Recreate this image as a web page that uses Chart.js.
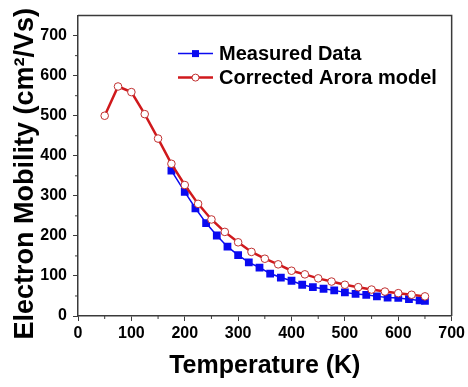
<!DOCTYPE html>
<html>
<head>
<meta charset="utf-8">
<script src="https://cdn.jsdelivr.net/npm/chart.js@4/dist/chart.umd.min.js"></script>
<style>
  html, body { margin: 0; padding: 0; background: #fff; }
  #wrap { width: 468px; height: 387px; }
</style>
</head>
<body>
<div id="wrap"><canvas id="mobChart"></canvas></div>
<script>
/* ================= DATA ================= */
const measuredT = [175, 200, 220, 240, 260, 280, 300, 320, 340, 360, 380, 400, 420,
  440, 460, 480, 500, 520, 540, 560, 580, 600, 620, 640, 650];
const measuredMu = [363, 310, 269, 232, 201, 173, 152, 134, 121, 106, 96, 88, 78,
  72, 68, 64, 59, 55, 53, 49, 46, 45, 42, 39, 38];

const aroraT = [50, 75, 100, 125, 150, 175, 200, 225, 250, 275, 300, 325, 350,
  375, 400, 425, 450, 475, 500, 525, 550, 575, 600, 625, 650];
const aroraMu = [500, 573, 559, 504, 443, 380, 327, 280, 241, 210, 184, 160, 143,
  129, 113, 104, 94, 86, 78, 72, 66, 61, 57, 53, 49];

const seriesLabels = ["Measured Data", "Corrected Arora model"];
const xTitle = "Temperature (K)";
const yTitle = "Electron Mobility (cm\u00B2/Vs)";

/* ================= STYLE ================= */
const FONT = "'Liberation Sans', Arial, sans-serif";
const AXIS_COLOR = "#3a3a3a";
const BLUE = "#0a0af0";
const RED = "#d0191c";

const toPoints = (xs, ys) => xs.map((x, i) => ({ x: x, y: ys[i] }));

/* ================= PLUGINS ================= */
// box frame + minor ticks + y title
const framePlugin = {
  id: "frame",
  afterDraw(chart) {
    const { ctx, chartArea: a, scales } = chart;
    ctx.save();
    ctx.strokeStyle = AXIS_COLOR;
    ctx.lineWidth = 1.5;
    ctx.beginPath();
    ctx.moveTo(a.left, a.top);
    ctx.lineTo(a.right, a.top);
    ctx.lineTo(a.right, a.bottom);
    ctx.stroke();

    ctx.lineWidth = 1;
    ctx.beginPath();
    for (let v = 50; v < 700; v += 100) {
      const px = scales.x.getPixelForValue(v);
      ctx.moveTo(px, a.bottom);
      ctx.lineTo(px, a.bottom + 3);
    }
    for (let v = 50; v < 750; v += 100) {
      const py = scales.y.getPixelForValue(v);
      ctx.moveTo(a.left, py);
      ctx.lineTo(a.left - 3, py);
    }
    ctx.stroke();

    // y title, sits a bit below the plot centre like the original
    ctx.translate(33, (a.top + a.bottom) / 2 + 8);
    ctx.rotate(-Math.PI / 2);
    ctx.font = "bold 27px " + FONT;
    ctx.fillStyle = "#000";
    ctx.textAlign = "center";
    ctx.textBaseline = "alphabetic";
    ctx.fillText(yTitle, 0, 0);
    ctx.restore();
  },
};

// legend drawn inside the plot
const legendPlugin = {
  id: "insideLegend",
  afterDraw(chart) {
    const { ctx, chartArea: a } = chart;
    const x0 = a.left + 100;
    const x1 = a.left + 135;
    const rows = [a.top + 38, a.top + 62];
    ctx.save();
    ctx.font = "bold 20px " + FONT;
    ctx.textBaseline = "middle";
    chart.data.datasets.forEach((ds, i) => {
      const y = rows[i];
      const xm = (x0 + x1) / 2;
      ctx.strokeStyle = ds.borderColor;
      ctx.lineWidth = ds.borderWidth;
      ctx.beginPath();
      ctx.moveTo(x0, y);
      ctx.lineTo(x1, y);
      ctx.stroke();
      ctx.fillStyle = ds.pointBackgroundColor;
      ctx.strokeStyle = ds.pointBorderColor;
      ctx.lineWidth = 1;
      if (ds.pointStyle === "rect") {
        ctx.fillRect(xm - 3.5, y - 3.5, 7, 7);
      } else {
        ctx.beginPath();
        ctx.arc(xm, y, 3.5, 0, Math.PI * 2);
        ctx.fill();
        ctx.stroke();
      }
      ctx.fillStyle = "#000";
      ctx.fillText(ds.label, x1 + 6, y + 1);
    });
    ctx.restore();
  },
};

/* ================= CHART ================= */
new Chart(document.getElementById("mobChart"), {
  type: "scatter",
  data: {
    datasets: [
      {
        label: seriesLabels[0],
        data: toPoints(measuredT, measuredMu),
        showLine: true,
        borderColor: BLUE,
        borderWidth: 1.5,
        pointStyle: "rect",
        pointRadius: 5.5,
        pointBackgroundColor: BLUE,
        pointBorderColor: BLUE,
        pointBorderWidth: 0,
        order: 1,
      },
      {
        label: seriesLabels[1],
        data: toPoints(aroraT, aroraMu),
        showLine: true,
        borderColor: RED,
        borderWidth: 2.5,
        pointStyle: "circle",
        pointRadius: 3.8,
        pointBackgroundColor: "#fff",
        pointBorderColor: "#c03030",
        pointBorderWidth: 1,
        order: 0,
      },
    ],
  },
  options: {
    responsive: true,
    maintainAspectRatio: false,
    animation: false,
    layout: { padding: { top: 10, right: 15, left: 0, bottom: 0 } },
    plugins: {
      legend: { display: false },
      tooltip: { enabled: false },
    },
    scales: {
      x: {
        type: "linear",
        min: 0,
        max: 700,
        afterFit(scale) { scale.height = 71; },
        ticks: {
          stepSize: 100,
          color: "#000",
          padding: 3,
          font: { family: FONT, size: 16, weight: "bold" },
        },
        grid: {
          drawOnChartArea: false,
          tickLength: 5,
          tickColor: AXIS_COLOR,
        },
        border: { color: AXIS_COLOR, width: 1.5 },
        title: {
          display: true,
          text: xTitle,
          color: "#000",
          padding: { top: 0, bottom: 6 },
          font: { family: FONT, size: 25, weight: "bold" },
        },
      },
      y: {
        type: "linear",
        min: 0,
        max: 750,
        afterFit(scale) { scale.width = 78; },
        ticks: {
          stepSize: 100,
          color: "#000",
          padding: 6,
          font: { family: FONT, size: 16, weight: "bold" },
        },
        afterBuildTicks(scale) {
          scale.ticks = scale.ticks.filter((t) => t.value <= 700);
        },
        grid: {
          drawOnChartArea: false,
          tickLength: 5,
          tickColor: AXIS_COLOR,
        },
        border: { color: AXIS_COLOR, width: 1.5 },
      },
    },
  },
  plugins: [framePlugin, legendPlugin],
});
</script>
</body>
</html>
